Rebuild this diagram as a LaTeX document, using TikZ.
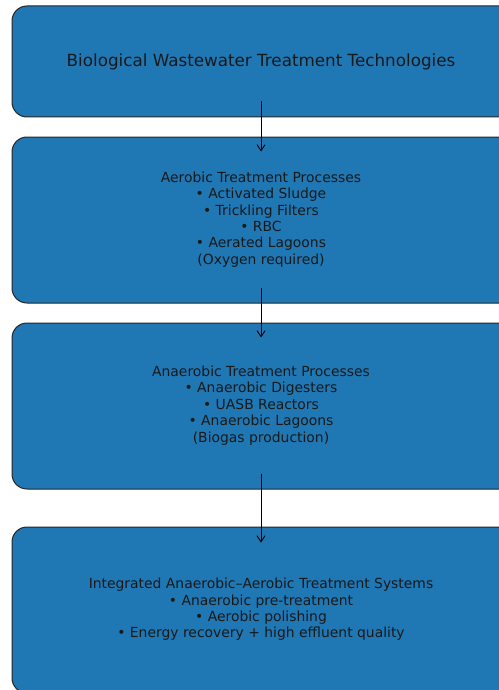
\documentclass[tikz,border=0pt]{standalone}
\usepackage{fontspec}
\setmainfont{DejaVu Sans}
\usetikzlibrary{arrows.meta}
\definecolor{boxblue}{HTML}{1F77B4}

\begin{document}
\begin{tikzpicture}[x=1pt,y=-1pt,
    stage/.style={draw=black!85, line width=1pt, fill=boxblue, rounded corners=15pt,
        minimum width=520pt, inner sep=0pt, align=center, text=black!90,
        font=\fontsize{13.9}{16.4}\selectfont},
    flow/.style={-{Straight Barb[length=6pt,width=8pt]}, line width=0.9pt}]
    \useasboundingbox (0,0) rectangle (498,690);

    \node[stage, minimum height=111pt, font=\fontsize{16.75}{20}\selectfont] (title) at (272,61.5)
        {\hspace*{-22pt}Biological Wastewater Treatment Technologies};
    \node[stage, minimum height=166pt] (aerobic) at (272,220)
        {\hspace*{-22pt}\begin{tabular}{@{}c@{}}Aerobic Treatment Processes\\ • Activated Sludge\\ • Trickling Filters\\ • RBC\\ • Aerated Lagoons\\ (Oxygen required)\end{tabular}};
    \node[stage, minimum height=166pt] (anaerobic) at (272,406)
        {\hspace*{-22pt}\begin{tabular}{@{}c@{}}Anaerobic Treatment Processes\\ • Anaerobic Digesters\\ • UASB Reactors\\ • Anaerobic Lagoons\\ (Biogas production)\end{tabular}};
    \node[stage, minimum height=166pt] (integrated) at (272,610)
        {\hspace*{-22pt}\begin{tabular}{@{}c@{}}Integrated Anaerobic–Aerobic Treatment Systems\\ • Anaerobic pre-treatment\\ • Aerobic polishing\\ • Energy recovery + high effluent quality\end{tabular}};

    \draw[flow] ([xshift=-11pt,yshift=16pt]title.south) -- ([xshift=-11pt,yshift=-15pt]aerobic.north);
    \draw[flow] ([xshift=-11pt,yshift=16pt]aerobic.south) -- ([xshift=-11pt,yshift=-15pt]anaerobic.north);
    \draw[flow] ([xshift=-11pt,yshift=16pt]anaerobic.south) -- ([xshift=-11pt,yshift=-16pt]integrated.north);
\end{tikzpicture}
\end{document}
